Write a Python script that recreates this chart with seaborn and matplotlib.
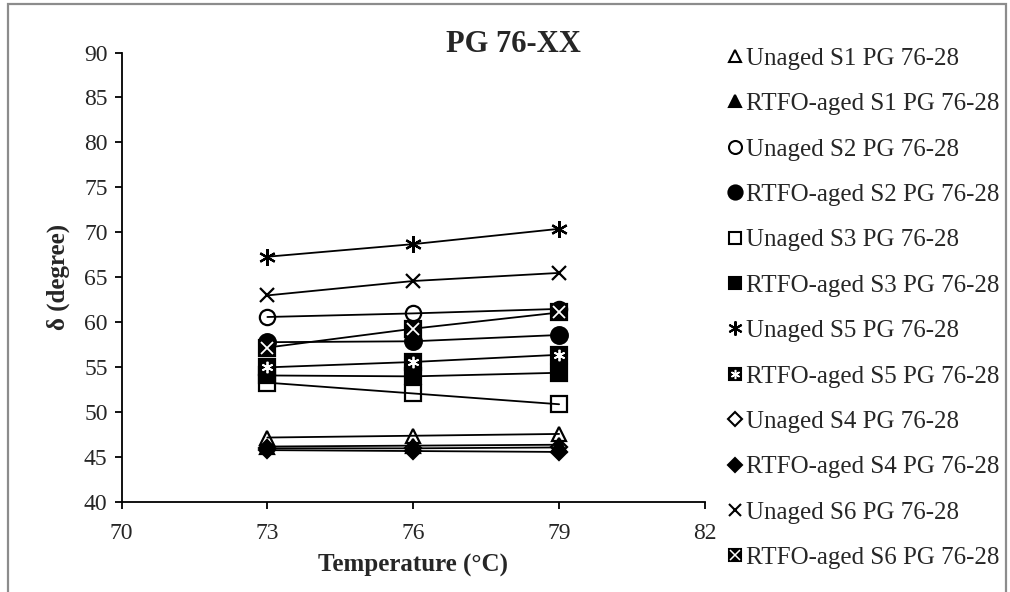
import matplotlib
matplotlib.use("Agg")
import matplotlib.pyplot as plt
from matplotlib.lines import Line2D
from matplotlib.legend_handler import HandlerTuple
from matplotlib.patches import Rectangle
import seaborn as sns
import pandas as pd

# Test temperatures (°C)
temperature = [73, 76, 79]

# Phase angle δ (degree) per binder
unaged_s1 = [47.2, 47.4, 47.6]
rtfo_s1 = [46.2, 46.3, 46.4]
unaged_s2 = [60.6, 61.0, 61.5]
rtfo_s2 = [57.8, 57.9, 58.6]
unaged_s3 = [53.3, 52.1, 50.9]
rtfo_s3 = [54.1, 54.0, 54.4]
unaged_s5 = [67.3, 68.7, 70.4]
rtfo_s5 = [55.0, 55.6, 56.4]
unaged_s4 = [46.0, 46.0, 46.1]
rtfo_s4 = [45.8, 45.7, 45.6]
unaged_s6 = [63.0, 64.6, 65.5]
rtfo_s6 = [57.2, 59.3, 61.1]

labels = [
    "Unaged S1 PG 76-28", "RTFO-aged S1 PG 76-28",
    "Unaged S2 PG 76-28", "RTFO-aged S2 PG 76-28",
    "Unaged S3 PG 76-28", "RTFO-aged S3 PG 76-28",
    "Unaged S5 PG 76-28", "RTFO-aged S5 PG 76-28",
    "Unaged S4 PG 76-28", "RTFO-aged S4 PG 76-28",
    "Unaged S6 PG 76-28", "RTFO-aged S6 PG 76-28",
]
series = [unaged_s1, rtfo_s1, unaged_s2, rtfo_s2, unaged_s3, rtfo_s3,
          unaged_s5, rtfo_s5, unaged_s4, rtfo_s4, unaged_s6, rtfo_s6]

ASTER = (6, 2, 0)
# (marker, filled, size, overlay marker in white)
styles = [
    ("^", False, 10, None), ("^", True, 10, None),
    ("o", False, 11, None), ("o", True, 12, None),
    ("s", False, 11, None), ("s", True, 11, None),
    (ASTER, False, 12, None), ("s", True, 11, ASTER),
    ("D", False, 8, None), ("D", True, 8, None),
    ("x", False, 10, None), ("s", True, 11, "x"),
]

sns.set_theme(style="white")
plt.rcParams["font.family"] = ["Liberation Serif", "DejaVu Serif"]

fig = plt.figure(figsize=(10.1, 5.92), dpi=100)
ax = fig.add_axes([0.1203, 0.1515, 0.698 - 0.1203, 0.9113 - 0.1515])

handles = []
for lab, vals, (mk, filled, ms, over) in zip(labels, series, styles):
    df = pd.DataFrame({"T": temperature, "d": vals})
    sns.lineplot(data=df, x="T", y="d", ax=ax, color="black", lw=1.3,
                 marker=mk, markersize=ms, markeredgewidth=1.6,
                 markerfacecolor="black" if filled else "none",
                 markeredgecolor="black", legend=False)
    h = Line2D([], [], ls="none", marker=mk, markersize=ms * 0.85,
               markeredgewidth=1.5, color="black",
               markerfacecolor="black" if filled else "none")
    if over is not None:
        ax.plot(temperature, vals, ls="none", marker=over, markersize=ms * 0.75,
                markeredgewidth=1.3, color="white", zorder=3)
        h2 = Line2D([], [], ls="none", marker=over, markersize=ms * 0.6,
                    markeredgewidth=1.1, color="white")
        h = (h, h2)
    handles.append(h)

ax.set_xlim(70, 82)
ax.set_ylim(40, 90)
ax.set_xticks([70, 73, 76, 79, 82])
ax.set_yticks(range(40, 91, 5))
ax.tick_params(axis="both", labelsize=17, length=5, width=1.3, color="black",
               direction="out", bottom=True, left=True, pad=5)
ax.tick_params(axis="x", pad=10)
for s in ["top", "right"]:
    ax.spines[s].set_visible(False)
for s in ["left", "bottom"]:
    ax.spines[s].set_color("black")
    ax.spines[s].set_linewidth(1.3)
ax.set_xlabel("Temperature (°C)", fontsize=18, fontweight="bold", labelpad=7)
ax.set_ylabel("δ (degree)", fontsize=18, fontweight="bold", labelpad=10)
ax.set_facecolor("white")

# Chart title, centred over the whole chart area
fig.text(0.508, 1 - 52 / 592, "PG 76-XX", fontsize=22, fontweight="bold",
         ha="center", va="baseline")

fig.legend(handles, labels, loc="upper left", bbox_to_anchor=(0.7104, 0.937),
           frameon=False, fontsize=18, handlelength=0.6, handletextpad=0.15,
           labelspacing=0.916, borderaxespad=0,
           handler_map={tuple: HandlerTuple(ndivide=1, pad=0)})

fig.patches.append(Rectangle((8 / 1010, -0.1), 998 / 1010, 1 - 4 / 592 + 0.1,
                             transform=fig.transFigure, fill=False,
                             edgecolor="#8c8c8c", lw=1.6))

fig.savefig("out.png", dpi=100, facecolor="white")
